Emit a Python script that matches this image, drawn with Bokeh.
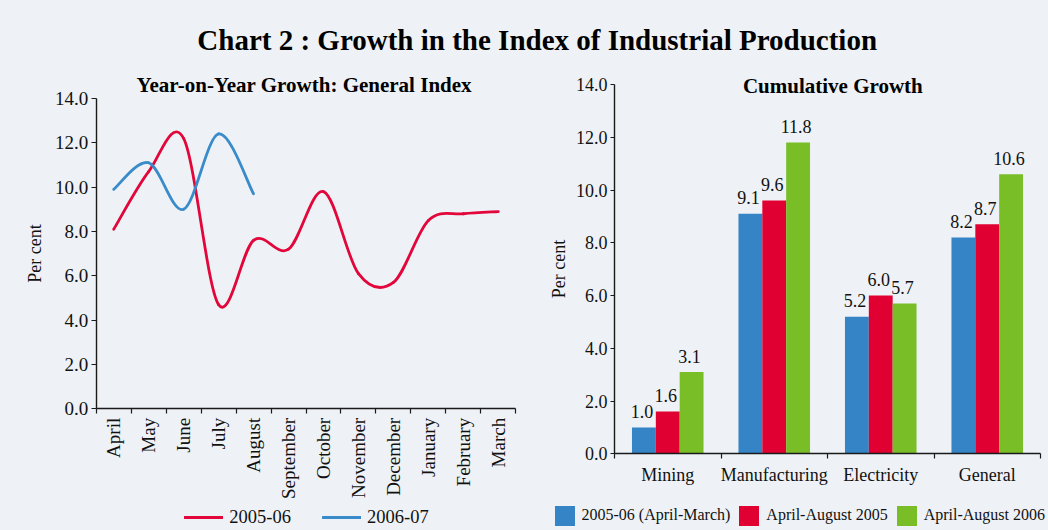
import numpy as np
from bokeh.plotting import figure
from bokeh.models import (Range1d, FixedTicker, PrintfTickFormatter, Label, Legend,
                          LegendItem, ColumnDataSource)
from bokeh.layouts import column, row
from bokeh.embed import file_html
from bokeh.resources import INLINE
from bokeh.core.properties import value

# ---------------- data ----------------
months = ["April", "May", "June", "July", "August", "September", "October",
          "November", "December", "January", "February", "March"]
growth_2005_06 = [8.1, 10.7, 12.2, 4.7, 7.6, 7.2, 9.8, 6.1, 5.7, 8.5, 8.8, 8.9]
growth_2006_07 = [9.9, 11.1, 9.0, 12.4, 9.7]

sectors = ["Mining", "Manufacturing", "Electricity", "General"]
cum_2005_06 = [1.0, 9.1, 5.2, 8.2]
cum_apr_aug_2005 = [1.6, 9.6, 6.0, 8.7]
cum_apr_aug_2006 = [3.1, 11.8, 5.7, 10.6]

y_ticks = [0, 2, 4, 6, 8, 10, 12, 14]

# ---------------- style ----------------
BG = "#EEF2F6"
FONT = "Liberation Serif"
AX = "#1a1a1a"
RED_LINE = "#E2063B"
BLUE_LINE = "#3A8BC9"
BLUE = "#3584C6"
RED = "#E00032"
GREEN = "#79BD27"

W, H = 1048, 530
TITLE_H = 57
LEFT_W = 530
RIGHT_W = W - LEFT_W
PANEL_H = H - TITLE_H


def ranges_for(canvas_x0, canvas_y0, width, height, ax_left, ax_right, ax_top, ax_bottom,
               x_lo, x_hi, y_lo, y_hi):
    """Ranges so that the data box [x_lo,x_hi]x[y_lo,y_hi] lands on the given page-pixel box,
    with the frame covering the whole canvas (axes are drawn inside it)."""
    sx = (ax_right - ax_left) / (x_hi - x_lo)
    sy = (ax_bottom - ax_top) / (y_hi - y_lo)
    xs = x_lo - (ax_left - canvas_x0) / sx
    xe = xs + width / sx
    ys = y_lo - (canvas_y0 + height - ax_bottom) / sy
    ye = ys + height / sy
    return Range1d(xs, xe), Range1d(ys, ye)


def base_fig(width, height, xr, yr):
    p = figure(width=width, height=height, x_range=xr, y_range=yr, title=None,
               toolbar_location=None, output_backend="svg", min_border=0)
    p.background_fill_color = BG
    p.border_fill_color = BG
    p.outline_line_color = None
    p.xgrid.visible = False
    p.ygrid.visible = False
    return p


def style_axes(p):
    for ax in (p.xaxis, p.yaxis):
        ax.axis_line_color = AX
        ax.axis_line_width = 1.4
        ax.major_tick_line_color = AX
        ax.minor_tick_line_color = AX
        ax.major_tick_line_width = 1.2
        ax.minor_tick_line_width = 1.2
        ax.major_label_text_color = "#111111"
        ax.axis_label_text_color = "#111111"


def smooth_segments(vals):
    """Excel-style smoothed line: cubic Bezier control points per segment."""
    n = len(vals)
    xs = list(range(n))
    out = dict(x0=[], y0=[], x1=[], y1=[], cx0=[], cy0=[], cx1=[], cy1=[])
    for i in range(n - 1):
        a = i - 1 if i > 0 else i
        d = i + 2 if i + 2 < n else i + 1
        out["x0"].append(xs[i]); out["y0"].append(vals[i])
        out["x1"].append(xs[i + 1]); out["y1"].append(vals[i + 1])
        out["cx0"].append(xs[i] + (xs[i + 1] - xs[a]) / 6.0)
        out["cy0"].append(vals[i] + (vals[i + 1] - vals[a]) / 6.0)
        out["cx1"].append(xs[i + 1] - (xs[d] - xs[i]) / 6.0)
        out["cy1"].append(vals[i + 1] - (vals[d] - vals[i]) / 6.0)
    return ColumnDataSource(out)


# ---------------- main title ----------------
T = figure(width=W, height=TITLE_H, x_range=Range1d(0, W), y_range=Range1d(0, TITLE_H),
           title=None, toolbar_location=None, output_backend="svg",
           x_axis_location=None, y_axis_location=None, min_border=0)
T.background_fill_color = BG
T.border_fill_color = BG
T.outline_line_color = None
for g in T.grid:
    g.visible = False
for g in T.renderers:
    pass
T.add_layout(Label(x=536.7, y=TITLE_H - 39, text="Chart 2 : Growth in the Index of Industrial Production",
                   text_font=FONT, text_font_size="29px", text_font_style="bold",
                   text_align="center", text_baseline="middle", text_color="#000000"))

# ---------------- left: line chart ----------------
n_m = len(months)
xr, yr = ranges_for(0, TITLE_H, LEFT_W, PANEL_H, 95.7, 515.3, 98.0, 408.3,
                    -0.5, n_m - 0.5, 0, 14)
L = base_fig(LEFT_W, PANEL_H, xr, yr)

r_red = L.bezier(x0="x0", y0="y0", x1="x1", y1="y1", cx0="cx0", cy0="cy0", cx1="cx1", cy1="cy1",
                 source=smooth_segments(growth_2005_06), line_color=RED_LINE, line_width=2.8,
                 line_cap="round")
r_blue = L.bezier(x0="x0", y0="y0", x1="x1", y1="y1", cx0="cx0", cy0="cy0", cx1="cx1", cy1="cy1",
                  source=smooth_segments(growth_2006_07), line_color=BLUE_LINE, line_width=2.8,
                  line_cap="round")

L.xaxis.fixed_location = 0
L.xaxis.bounds = (-0.5, n_m - 0.5)
L.xaxis.ticker = FixedTicker(ticks=list(range(n_m)),
                             minor_ticks=[i - 0.5 for i in range(n_m + 1)])
L.xaxis.major_label_overrides = {i: m for i, m in enumerate(months)}
L.xaxis.major_label_orientation = np.pi / 2
L.xaxis.major_tick_out = 0
L.xaxis.major_tick_in = 0
L.xaxis.minor_tick_out = 5
L.xaxis.minor_tick_in = 0
L.xaxis.major_label_standoff = 4
L.xaxis.major_label_text_font = FONT
L.xaxis.major_label_text_font_size = "19px"

L.yaxis.fixed_location = -0.5
L.yaxis.bounds = (0, 14)
L.yaxis.ticker = FixedTicker(ticks=y_ticks)
L.yaxis.formatter = PrintfTickFormatter(format="%.1f")
L.yaxis.major_tick_out = 5
L.yaxis.major_tick_in = 0
L.yaxis.major_label_standoff = 3
L.yaxis.major_label_text_font = FONT
L.yaxis.major_label_text_font_size = "19px"
L.yaxis.axis_label = "Per cent"
L.yaxis.axis_label_text_font = FONT
L.yaxis.axis_label_text_font_size = "18px"
L.yaxis.axis_label_text_font_style = "normal"
L.yaxis.axis_label_standoff = 7
style_axes(L)

L.add_layout(Label(x=5.45, y=14.59, text="Year-on-Year Growth: General Index",
                   text_font=FONT, text_font_size="21px", text_font_style="bold",
                   text_align="center", text_baseline="middle", text_color="#000000"))

leg_l = Legend(items=[LegendItem(label="2005-06", renderers=[r_red]),
                      LegendItem(label="2006-07", renderers=[r_blue])],
               location=(184.3, 2), orientation="horizontal",
               glyph_width=39, glyph_height=22, label_standoff=6, spacing=31,
               padding=0, margin=0, background_fill_alpha=0, border_line_color=None,
               label_text_font=FONT, label_text_font_size="18.5px", label_text_color="#111111")
L.add_layout(leg_l)

# ---------------- right: bar chart ----------------
n_s = len(sectors)
xr2, yr2 = ranges_for(LEFT_W, TITLE_H, RIGHT_W, PANEL_H, 614.0, 1040.0, 84.0, 453.3,
                      -0.5, n_s - 0.5, 0, 14)
R = base_fig(RIGHT_W, PANEL_H, xr2, yr2)

bw = 0.224
idx = np.arange(n_s)
series = [(cum_2005_06, BLUE, "2005-06 (April-March)", -bw),
          (cum_apr_aug_2005, RED, "April-August 2005", 0.0),
          (cum_apr_aug_2006, GREEN, "April-August 2006", bw)]
bar_items = []
for vals, col, lab, off in series:
    src = ColumnDataSource(dict(x=idx + off, top=vals, txt=[f"{v:.1f}" for v in vals]))
    rb = R.vbar(x="x", top="top", width=bw, bottom=0, source=src,
                fill_color=col, line_color=None)
    R.text(x="x", y="top", text="txt", source=src, text_font=value(FONT),
           text_font_size=value("18px"), text_align="center", text_baseline="middle",
           x_offset=-2, y_offset=-16, text_color="#111111")
    bar_items.append(LegendItem(label=lab, renderers=[rb]))

R.xaxis.fixed_location = 0
R.xaxis.bounds = (-0.5, n_s - 0.5)
R.xaxis.ticker = FixedTicker(ticks=list(range(n_s)),
                             minor_ticks=[i - 0.5 for i in range(n_s + 1)])
R.xaxis.major_label_overrides = {i: s for i, s in enumerate(sectors)}
R.xaxis.major_tick_out = 0
R.xaxis.major_tick_in = 0
R.xaxis.minor_tick_out = 5
R.xaxis.minor_tick_in = 0
R.xaxis.major_label_standoff = 6
R.xaxis.major_label_text_font = FONT
R.xaxis.major_label_text_font_size = "18px"

R.yaxis.fixed_location = -0.5
R.yaxis.bounds = (0, 14)
R.yaxis.ticker = FixedTicker(ticks=y_ticks)
R.yaxis.formatter = PrintfTickFormatter(format="%.1f")
R.yaxis.major_tick_out = 4
R.yaxis.major_tick_in = 0
R.yaxis.major_label_standoff = 3
R.yaxis.major_label_text_font = FONT
R.yaxis.major_label_text_font_size = "18px"
R.yaxis.axis_label = "Per cent"
R.yaxis.axis_label_text_font = FONT
R.yaxis.axis_label_text_font_size = "18px"
R.yaxis.axis_label_text_font_style = "normal"
R.yaxis.axis_label_standoff = 4
style_axes(R)

R.add_layout(Label(x=1.55, y=13.96, text="Cumulative Growth",
                   text_font=FONT, text_font_size="21px", text_font_style="bold",
                   text_align="center", text_baseline="middle", text_color="#000000"))

leg_r = Legend(items=bar_items, location=(21.5, 2.5), orientation="horizontal",
               glyph_width=25, glyph_height=25, label_standoff=5, spacing=6,
               padding=0, margin=0, background_fill_alpha=0, border_line_color=None,
               label_text_font=FONT, label_text_font_size="16px", label_text_color="#111111")
R.add_layout(leg_r)

inner = row(L, R, styles={"background-color": BG})
layout = column(T, inner, styles={"background-color": BG})
open("out.html", "w").write(file_html(layout, INLINE))
